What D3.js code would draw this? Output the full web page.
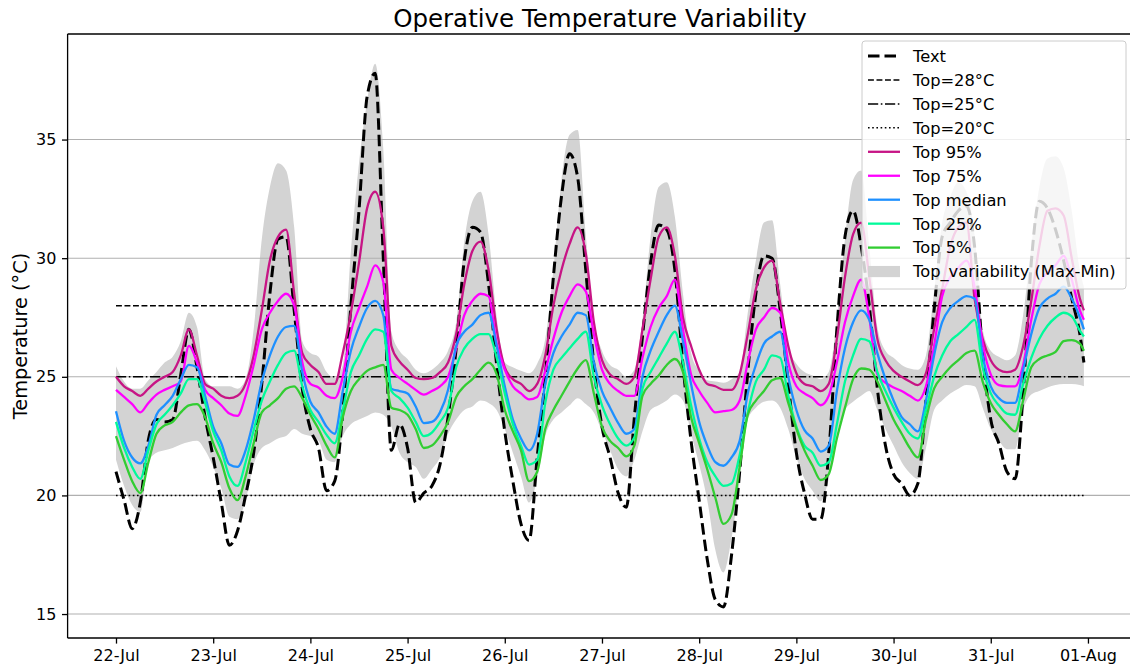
<!DOCTYPE html>
<html><head><meta charset="utf-8">
<script src="https://cdn.jsdelivr.net/npm/d3@7"></script>
<style>
body{margin:0;background:#fff}
svg{display:block}
text{font-family:"DejaVu Sans",sans-serif;fill:#000}
</style>
</head><body>
<svg id="chart" width="1130" height="668"></svg>
<script>
// ---- data (2-hourly samples, hours since 22-Jul 00:00) ----
const hours = d3.range(0, 240, 2).concat([239]);

const textTemp = [21.0,19.8,18.6,19.7,22.35,23.2,23.1,23.2,25.1,27.0,25.4,23.3,
21.6,19.7,17.9,18.5,20.0,21.8,24.7,28.5,30.8,30.9,27.8,24.5,
22.8,22.0,20.2,20.6,23.5,28.0,32.0,36.8,37.8,30.0,21.9,23.0,
22.0,19.7,20.1,20.4,21.3,23.3,26.2,29.9,31.3,31.1,28.9,25.5,
22.7,20.6,18.8,18.1,21.6,25.0,29.2,32.6,34.4,33.4,29.5,25.5,
22.9,21.6,20.1,19.5,23.3,26.7,29.8,31.4,31.2,29.5,25.5,22.3,
19.8,17.3,15.6,15.3,17.5,21.0,25.2,28.5,30.1,30.0,27.8,24.7,
21.8,20.1,19.0,19.0,21.8,27.0,30.9,32.0,30.5,28.0,24.5,22.1,
20.9,20.5,20.0,20.5,24.0,27.8,30.9,31.5,32.0,32.2,30.5,26.0,
23.2,22.2,21.0,20.7,24.3,29.8,32.4,32.1,31.2,29.9,28.3,26.8,
25.6];

const top95 = [25.0,24.6,24.4,24.2,24.5,24.8,25.0,25.2,25.9,27.0,25.9,24.7,
24.5,24.2,24.1,24.2,24.7,25.9,27.8,29.9,30.9,31.2,28.5,26.0,
25.5,25.2,24.7,24.7,26.0,27.7,29.8,32.1,32.8,31.3,26.3,25.65,
25.3,24.95,24.9,24.95,25.2,25.6,26.8,28.9,30.3,30.7,29.5,27.0,
25.4,24.9,24.7,24.4,24.7,25.9,28.0,29.5,30.6,31.3,30.2,27.3,
25.7,25.1,24.9,24.7,25.0,27.0,29.1,30.9,31.3,30.1,27.5,26.3,
25.3,24.7,24.6,24.45,24.45,25.1,26.8,28.7,29.6,29.9,28.1,26.3,
25.15,24.7,24.6,24.4,24.7,26.6,29.2,31.0,31.5,29.2,26.6,25.7,
25.25,25.0,24.8,24.65,25.15,27.0,28.7,30.5,31.3,31.5,28.3,26.6,
25.7,25.3,25.2,25.3,26.3,28.2,30.5,32.0,32.1,31.8,30.0,28.3,
27.8];

const top75 = [24.45,24.15,23.85,23.5,23.9,24.25,24.45,24.6,24.8,26.3,25.6,24.45,
24.1,23.8,23.45,23.35,24.2,25.5,27.0,27.7,28.2,28.5,28.0,25.6,
24.7,24.55,24.2,24.1,25.0,26.9,27.9,28.8,29.7,29.0,25.3,24.95,
24.7,24.45,24.25,24.4,24.6,25.0,26.2,27.6,28.2,28.5,28.4,26.4,
25.3,24.6,24.3,24.05,24.15,25.25,26.6,27.7,28.4,28.9,28.6,26.8,
25.3,24.7,24.4,24.2,24.2,25.8,27.1,27.9,28.4,29.1,27.0,25.1,
24.4,23.9,23.5,23.55,23.6,24.0,25.6,27.0,27.5,27.9,27.7,25.6,
24.6,24.3,24.1,23.8,24.2,25.6,27.3,28.4,29.1,27.5,25.1,24.75,
24.55,24.4,24.2,24.0,24.6,26.3,28.4,29.2,29.6,29.9,28.8,26.4,
25.1,24.65,24.6,24.6,25.5,27.4,28.9,29.4,29.7,30.1,29.1,27.8,
27.4];

const topMedian = [23.55,22.3,21.6,21.35,22.1,23.4,23.8,24.2,24.9,25.5,25.4,24.2,
22.9,22.2,21.3,21.2,21.9,23.2,24.8,25.9,26.7,27.1,27.15,25.2,
23.95,23.5,22.9,22.6,24.4,26.1,27.1,27.9,28.2,27.6,24.5,24.4,
24.3,23.75,23.05,23.1,23.5,24.45,26.3,26.9,27.2,27.6,27.7,26.3,
24.6,23.2,22.4,21.9,22.6,24.7,26.0,26.7,27.2,27.7,27.6,25.6,
24.4,23.7,23.05,22.6,22.8,25.0,26.1,26.9,27.6,28.0,26.5,24.7,
23.1,22.1,21.4,21.25,21.6,22.3,24.3,25.5,26.4,26.7,26.9,25.0,
23.6,22.75,22.4,21.85,22.1,24.4,26.2,27.3,27.8,27.4,26.0,24.9,
24.0,23.3,23.0,22.7,24.0,25.9,27.3,27.9,28.2,28.4,28.3,25.9,
24.6,24.1,23.9,23.9,25.3,26.8,27.9,28.3,28.5,28.8,28.3,27.5,
27.0];

const top25 = [23.1,22.0,21.2,20.7,21.9,23.0,23.4,23.8,24.3,24.9,24.9,23.9,
22.7,21.9,20.8,20.4,21.4,22.75,24.0,24.8,25.5,26.0,26.1,24.6,
23.6,23.1,22.55,22.2,23.6,25.2,25.9,26.6,27.0,26.9,24.4,24.1,
23.7,23.1,22.5,22.65,23.1,23.7,25.4,26.2,26.6,26.8,26.8,25.8,
24.3,23.0,22.1,21.3,21.5,23.9,25.3,25.8,26.2,26.6,26.9,25.0,
23.8,23.0,22.4,22.1,22.45,24.5,25.2,25.8,26.4,26.9,25.6,23.8,
22.4,21.4,20.8,20.4,20.5,21.7,23.5,24.8,25.3,25.9,25.8,24.2,
22.9,22.1,21.8,21.25,21.4,23.0,24.8,25.9,26.6,26.5,25.2,24.4,
23.7,23.1,22.6,22.4,23.6,25.0,25.9,26.5,26.8,27.1,27.4,25.4,
24.3,23.8,23.45,23.4,24.7,25.8,26.6,27.15,27.5,27.7,27.55,26.95,
26.7];

const top5 = [22.5,21.5,20.6,20.1,21.4,22.6,22.95,23.1,23.5,23.8,23.85,23.3,
22.2,21.4,20.3,19.8,20.8,22.2,23.5,23.8,24.1,24.5,24.6,24.1,
23.4,22.8,22.1,21.6,23.3,24.4,24.9,25.25,25.4,25.5,23.7,23.6,
23.4,22.8,22.0,22.1,22.5,23.1,24.15,24.6,24.9,25.3,25.6,25.1,
23.6,22.7,21.9,20.6,21.0,22.8,23.6,24.2,24.8,25.35,25.7,24.3,
22.9,22.3,22.0,21.65,22.1,24.2,24.7,25.05,25.5,25.75,25.2,23.3,
22.2,21.1,19.9,18.8,19.2,21.2,23.4,24.0,24.4,24.85,24.95,23.9,
22.8,21.9,21.25,20.65,20.9,22.4,23.7,24.9,25.35,25.3,24.8,24.0,
23.2,22.6,22.0,21.6,23.2,24.5,25.0,25.4,25.7,26.0,26.1,24.8,
23.9,23.4,23.0,22.7,24.0,25.4,25.75,25.9,26.05,26.5,26.55,26.4,
26.1];

const topMax = [25.45,24.8,24.5,24.5,24.85,25.2,25.6,25.85,26.5,27.7,27.1,24.9,
24.6,24.6,24.6,24.5,24.9,27.0,30.8,33.0,34.0,33.7,31.3,26.5,
26.0,25.85,25.2,24.95,25.5,30.3,34.0,36.6,38.2,34.6,26.9,26.1,
25.75,25.3,25.15,25.3,25.6,26.1,27.3,30.7,32.4,32.8,31.0,27.5,
25.6,25.4,25.25,25.15,25.55,26.6,29.5,33.3,35.2,35.4,31.0,27.4,
26.1,25.5,25.3,25.0,25.3,27.4,30.9,33.0,33.2,31.75,28.5,26.0,
25.25,24.85,24.8,24.75,24.9,25.2,27.7,29.9,31.5,31.6,28.9,26.3,
25.55,25.2,25.05,24.9,25.2,27.4,30.8,33.3,33.7,30.5,27.1,26.1,
25.8,25.5,25.35,25.3,25.9,28.6,31.5,32.6,33.2,32.8,31.0,27.0,
26.1,25.85,25.7,25.9,27.6,30.5,33.0,34.2,34.3,33.8,32.0,29.5,
28.8];

const topMin = [21.5,20.4,19.6,19.3,21.4,21.8,21.9,22.0,22.15,22.25,22.3,21.9,
21.2,20.3,19.1,19.0,19.8,21.3,22.0,22.2,22.4,22.5,22.8,22.6,
22.5,22.3,21.5,21.4,22.5,23.0,23.2,23.35,23.5,23.4,22.9,21.8,
21.4,21.2,20.7,21.1,21.6,22.6,23.2,23.6,23.75,24.0,23.9,23.6,
22.8,21.8,20.8,19.7,20.7,22.5,23.2,23.5,23.8,24.1,23.85,23.5,
22.7,21.9,21.1,20.8,21.5,22.7,23.6,23.8,24.0,24.25,24.0,22.6,
21.3,19.8,17.7,16.75,18.2,20.6,23.2,23.7,23.95,24.0,23.7,22.8,
21.6,20.7,20.2,19.75,20.7,22.6,23.6,23.95,24.2,24.4,23.6,22.8,
22.1,21.4,20.95,20.7,22.0,23.6,24.0,24.3,24.5,24.65,24.6,23.7,
22.8,22.3,21.95,21.95,23.6,24.25,24.4,24.55,24.65,24.7,24.7,24.65,
24.6];

const thresholdValues = [28, 25, 20];
const thresholdLabels = ["Top=28°C", "Top=25°C", "Top=20°C"];
const percentileLabels = ["Top 95%", "Top 75%", "Top median", "Top 25%", "Top 5%"];
const percentileSeries = [top95, top75, topMedian, top25, top5];
const dayTickHours = d3.range(0, 241, 24);
const dayTickLabels = ["22-Jul","23-Jul","24-Jul","25-Jul","26-Jul","27-Jul","28-Jul","29-Jul","30-Jul","31-Jul","01-Aug"];
const yTickValues = [15, 20, 25, 30, 35];

// ---- styles ----
const percentileColors = ["#C71585", "#FF00FF", "#1E90FF", "#00FA9A", "#32CD32"];
const thresholdDash = ["5.9 2.6", "10.2 2.6 1.6 2.6", "1.6 2.6"];
const bandColor = "#D3D3D3";

// ---- layout ----
const svg = d3.select("#chart");
const L = 67.6, R = 1132.3, T = 34, B = 638;
const x = d3.scaleLinear().domain([-11.95, 250.95]).range([L, R]);
const y = d3.scaleLinear().domain([13.99, 39.45]).range([B, T]);

svg.append("defs").append("clipPath").attr("id", "clip")
  .append("rect").attr("x", L).attr("y", T).attr("width", R - L).attr("height", B - T);

const plot = svg.append("g").attr("clip-path", "url(#clip)");

// band
const area = d3.area()
  .x((d, i) => x(hours[i]))
  .y0((d, i) => y(topMin[i]))
  .y1((d, i) => y(topMax[i]))
  .curve(d3.curveMonotoneX);
plot.append("path").datum(topMax).attr("d", area).attr("fill", bandColor);

// grid
plot.selectAll(".grid").data(yTickValues).enter().append("line")
  .attr("x1", L).attr("x2", R)
  .attr("y1", d => y(d)).attr("y2", d => y(d))
  .attr("stroke", "#b0b0b0").attr("stroke-width", 1.1);

const line = d3.line()
  .x((d, i) => x(hours[i]))
  .y(d => y(d))
  .curve(d3.curveMonotoneX);

// outdoor temperature
plot.append("path").datum(textTemp).attr("d", line)
  .attr("fill", "none").attr("stroke", "#000").attr("stroke-width", 3)
  .attr("stroke-dasharray", "11.5 5");

// thresholds
thresholdValues.forEach((v, i) => {
  plot.append("line")
    .attr("x1", x(hours[0])).attr("x2", x(hours[hours.length - 1]))
    .attr("y1", y(v)).attr("y2", y(v))
    .attr("stroke", "#000").attr("stroke-width", 1.5)
    .attr("stroke-dasharray", thresholdDash[i]);
});

// percentiles
percentileSeries.forEach((s, i) => {
  plot.append("path").datum(s).attr("d", line)
    .attr("fill", "none").attr("stroke", percentileColors[i]).attr("stroke-width", 2.3);
});

// axes
const yAxis = d3.axisLeft(y).tickValues(yTickValues).tickSize(5.6).tickPadding(5.6);
const gy = svg.append("g").attr("transform", `translate(${L},0)`).call(yAxis);
const xAxis = d3.axisBottom(x).tickValues(dayTickHours)
  .tickFormat((d, i) => dayTickLabels[i]).tickSize(5.6).tickPadding(5.6);
const gx = svg.append("g").attr("transform", `translate(0,${B})`).call(xAxis);
[gx, gy].forEach(g => {
  g.select(".domain").remove();
  g.selectAll(".tick line").attr("stroke", "#000").attr("stroke-width", 1.3);
  g.selectAll(".tick text").attr("font-size", 16).attr("font-family", "DejaVu Sans").attr("fill", "#000");
});

// spines
svg.append("line").attr("x1", L).attr("x2", L).attr("y1", T).attr("y2", B).attr("stroke", "#000").attr("stroke-width", 1.3);
svg.append("line").attr("x1", L).attr("x2", R).attr("y1", B).attr("y2", B).attr("stroke", "#000").attr("stroke-width", 1.3);
svg.append("line").attr("x1", L).attr("x2", R).attr("y1", T).attr("y2", T).attr("stroke", "#000").attr("stroke-width", 1.3);
svg.append("line").attr("x1", R).attr("x2", R).attr("y1", T).attr("y2", B).attr("stroke", "#000").attr("stroke-width", 1.3);

// title and label
svg.append("text").attr("x", (L + R) / 2).attr("y", 27).attr("text-anchor", "middle")
  .attr("font-size", 24.5).text("Operative Temperature Variability");
svg.append("text").attr("transform", `translate(27,${(T + B) / 2}) rotate(-90)`)
  .attr("text-anchor", "middle").attr("font-size", 19.3).text("Temperature (°C)");

// legend
const lg = svg.append("g");
const lx = 862, ly = 41, lw = 264, lh = 248;
lg.append("rect").attr("x", lx).attr("y", ly).attr("width", lw).attr("height", lh)
  .attr("rx", 3).attr("fill", "#fff").attr("fill-opacity", 0.8)
  .attr("stroke", "#cccccc").attr("stroke-width", 1);
const items = [{label: "Text", type: "text"}]
  .concat(thresholdLabels.map((l, i) => ({label: l, type: "thr", i})))
  .concat(percentileLabels.map((l, i) => ({label: l, type: "pct", i})))
  .concat([{label: "Top_variability (Max-Min)", type: "band"}]);
items.forEach((it, k) => {
  const cy = 56 + k * 23.95;
  if (it.type === "band") {
    lg.append("rect").attr("x", 868).attr("y", cy - 5.6).attr("width", 32).attr("height", 11.2).attr("fill", bandColor);
  } else {
    const l = lg.append("line").attr("x1", 868).attr("x2", 900).attr("y1", cy).attr("y2", cy);
    if (it.type === "text") l.attr("stroke", "#000").attr("stroke-width", 3).attr("stroke-dasharray", "11.5 5");
    if (it.type === "thr") l.attr("stroke", "#000").attr("stroke-width", 1.5).attr("stroke-dasharray", thresholdDash[it.i]);
    if (it.type === "pct") l.attr("stroke", percentileColors[it.i]).attr("stroke-width", 2.3);
  }
  lg.append("text").attr("x", 913).attr("y", cy).attr("dy", "0.36em").attr("font-size", 16.3).text(it.label);
});
</script>
</body></html>
